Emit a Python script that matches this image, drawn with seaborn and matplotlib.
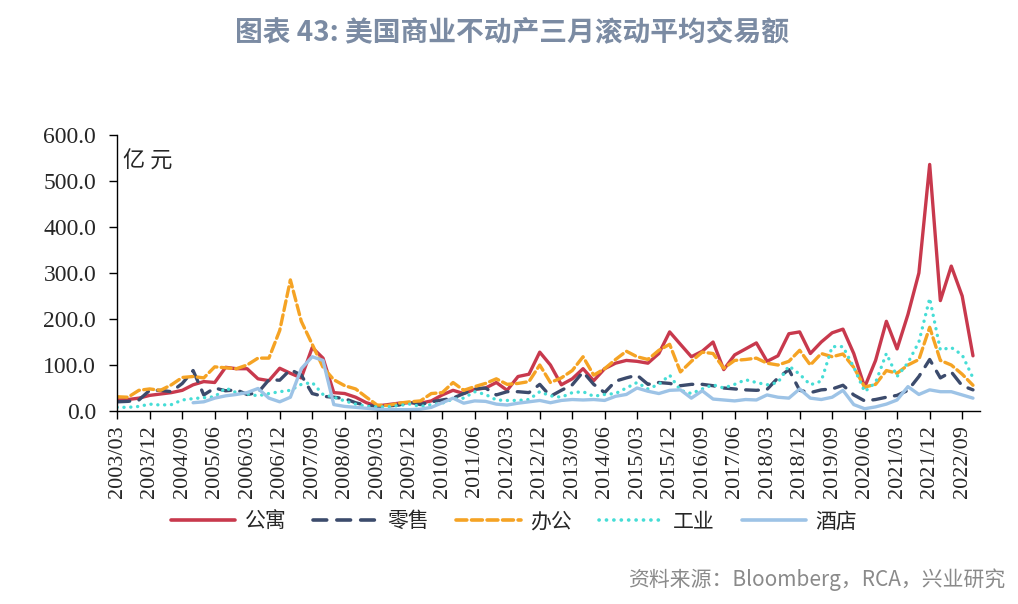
# plot.py
# US commercial real estate: 3-month rolling average transaction volume by sector.
# Quarterly readings taken off the source chart (unit: 100m yuan).

import numpy as np
import pandas as pd
import matplotlib
matplotlib.use("Agg")
import matplotlib.pyplot as plt
from matplotlib.lines import Line2D
import seaborn as sns

# ── 1. Data ───────────────────────────────────────────────────────────────────
quarters = pd.date_range("2003-03-01", periods=80, freq="3MS")

apartment = [24, 25, 28, 34, 37, 40, 45, 57, 64, 62,
             95, 92, 92, 70, 66, 93, 82, 72, 138, 115,
             40, 38, 30, 18, 11, 14, 17, 18, 17, 22,
             35, 45, 38, 47, 50, 62, 45, 75, 80, 128,
             100, 57, 70, 92, 66, 92, 104, 110, 108, 104,
             125, 172, 145, 118, 130, 150, 90, 122, 135, 148,
             108, 120, 168, 172, 125, 150, 170, 178, 125, 52,
             110, 195, 135, 210, 300, 536, 240, 315, 250, 120]

retail = [20, 21, 24, 45, 45, 42, 60, 88, 35, 50,
          44, 46, 36, 40, 68, 67, 90, 78, 38, 32,
          30, 27, 18, 12, 10, 11, 13, 20, 14, 20,
          24, 28, 38, 48, 50, 35, 42, 42, 40, 58,
          32, 45, 57, 85, 58, 40, 65, 72, 78, 58,
          62, 60, 55, 58, 58, 55, 50, 48, 46, 45,
          47, 72, 90, 45, 40, 46, 48, 56, 35, 22,
          25, 30, 34, 45, 75, 112, 72, 85, 55, 46]

office = [31, 30, 45, 48, 45, 57, 73, 75, 72, 96,
          94, 92, 100, 115, 115, 175, 285, 195, 145, 95,
          68, 55, 48, 30, 13, 12, 17, 20, 22, 38,
          40, 62, 45, 53, 60, 70, 58, 60, 64, 100,
          62, 72, 88, 118, 78, 92, 112, 130, 118, 112,
          132, 145, 85, 108, 128, 125, 93, 110, 112, 115,
          104, 100, 108, 132, 100, 125, 118, 124, 95, 52,
          58, 88, 82, 100, 112, 182, 110, 100, 80, 56]

industrial = [8, 8, 10, 15, 13, 14, 24, 27, 29, 31,
              50, 40, 37, 33, 38, 42, 45, 58, 62, 36,
              30, 22, 15, 10, 9, 9, 12, 15, 10, 14,
              17, 26, 28, 42, 36, 24, 23, 23, 25, 42,
              33, 30, 40, 42, 32, 36, 38, 50, 62, 48,
              58, 78, 45, 38, 48, 57, 50, 58, 68, 62,
              57, 62, 98, 80, 57, 65, 140, 140, 95, 42,
              62, 125, 75, 105, 150, 245, 133, 138, 122, 72]

hotel = [np.nan] * 7 + [18, 20, 28,
         33, 36, 40, 49, 28, 20, 30, 92, 118, 110,
         14, 10, 8, 6, 4, 3, 3, 3, 4, 8,
         18, 28, 17, 22, 21, 15, 13, 17, 20, 23,
         18, 23, 25, 24, 25, 23, 32, 36, 50, 43,
         38, 45, 46, 28, 44, 26, 24, 22, 25, 24,
         35, 30, 28, 48, 28, 25, 30, 45, 14, 5,
         9, 15, 24, 53, 36, 46, 42, 42, 35, 28]

series_names = ["公寓", "零售", "办公", "工业", "酒店"]
yticks = [0, 100, 200, 300, 400, 500, 600]
xtick_dates = pd.date_range("2003-03-01", "2022-09-01", freq="9MS")

# ── 2. Style ──────────────────────────────────────────────────────────────────
sns.set_style("ticks")
plt.rcParams["font.family"] = ["Liberation Serif", "Noto Sans CJK SC"]
CJK = ["Noto Sans CJK SC", "DejaVu Sans"]

styles = {
    "公寓": dict(color="#C8394D", linestyle="-"),
    "零售": dict(color="#3C4B6C", linestyle=(0, (3.8, 2.8))),
    "办公": dict(color="#F5A324", linestyle=(0, (3.0, 1.3))),
    "工业": dict(color="#46DDD6", linestyle=(0, (0.05, 2.0))),
    "酒店": dict(color="#9DC3E6", linestyle="-"),
}
values = dict(zip(series_names, [apartment, retail, office, industrial, hotel]))

# ── 3. Plot ───────────────────────────────────────────────────────────────────
fig = plt.figure(figsize=(10.18, 6.04), dpi=100)
ax = fig.add_axes([0.115, 0.3195, 0.848, 0.457])

for name in series_names:
    df = pd.DataFrame({"date": quarters, "value": values[name]}).dropna()
    sns.lineplot(data=df, x="date", y="value", ax=ax, linewidth=2.4,
                 dash_capstyle="round", solid_joinstyle="round", **styles[name])

ax.set_xlim(pd.Timestamp("2003-03-01"), pd.Timestamp("2023-02-01"))
ax.set_ylim(0, 600)
ax.set_yticks(yticks)
ax.set_yticklabels([f"{v:.1f}" for v in yticks], fontsize=17)
ax.set_xticks(xtick_dates)
ax.set_xticklabels([d.strftime("%Y/%m") for d in xtick_dates], rotation=90, fontsize=16)
ax.set_xlabel("")
ax.set_ylabel("")
ax.tick_params(axis="both", direction="out", length=6, width=1, color="black")
ax.tick_params(axis="y", pad=9)
ax.tick_params(axis="x", pad=4)
for side in ["top", "right"]:
    ax.spines[side].set_visible(False)
for side in ["left", "bottom"]:
    ax.spines[side].set_color("black")
    ax.spines[side].set_linewidth(1.0)

ax.text(0.007, 0.905, "亿 元", transform=ax.transAxes, family=CJK, fontsize=16,
        ha="left", va="center")

# legend under the chart
handles = [Line2D([0], [0], linewidth=2.6, dash_capstyle="round", **styles[n])
           for n in series_names]
fig.legend(handles, series_names, loc="center", bbox_to_anchor=(0.505, 0.137),
           ncol=5, frameon=False, handlelength=3.1, columnspacing=1.3,
           handletextpad=0.45, prop={"family": CJK, "size": 15})

fig.text(0.503, 0.947, "图表 43: 美国商业不动产三月滚动平均交易额", ha="center", va="center",
         family=CJK, fontsize=20, fontweight="bold", color="#7B8BA3")
fig.text(0.987, 0.04, "资料来源：Bloomberg，RCA，兴业研究", ha="right", va="center",
         family=CJK, fontsize=15, color="#8A8A8A")

fig.savefig("out.png", dpi=100)
